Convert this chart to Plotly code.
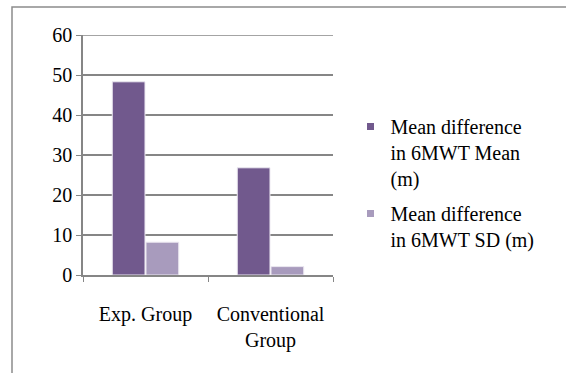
import plotly.graph_objects as go

categories = ["Exp. Group", "Conventional<br>Group"]
mean_diff = [48.3, 26.8]
sd_diff = [8.2, 2.1]
series_names = ["Mean difference<br>in 6MWT Mean<br>(m)", "Mean difference<br>in 6MWT SD (m)"]
colors = ["#71598d", "#a89bbd"]
y_ticks = [0, 10, 20, 30, 40, 50, 60]

font = dict(family="Liberation Serif", size=20, color="#000000")
grid_col = "#868686"

fig = go.Figure()
for i, (vals, name, col) in enumerate(zip([mean_diff, sd_diff], series_names, colors)):
    fig.add_trace(go.Bar(
        x=categories, y=vals, name=name, showlegend=False,
        marker=dict(color=col, line=dict(color="#ece8f1", width=1)),
    ))
    # small square legend swatch
    fig.add_trace(go.Scatter(
        x=[None], y=[None], mode="markers", name=name,
        legendgroup=f"g{i}",
        marker=dict(symbol="square", size=7, color=col),
    ))

fig.update_layout(
    width=566, height=373,
    margin=dict(l=83, r=233, t=35, b=98),
    paper_bgcolor="white", plot_bgcolor="white",
    font=font,
    barmode="group", bargap=0.46, bargroupgap=0.03,
    legend=dict(x=1.07, y=0.70, xanchor="left", yanchor="top",
                font=font, tracegroupgap=6, itemwidth=30, valign="top",
                bgcolor="rgba(0,0,0,0)"),
    xaxis=dict(
        showline=True, linecolor=grid_col, linewidth=1.5,
        ticks="outside", ticklen=5, tickcolor=grid_col,
        tickson="boundaries", showgrid=False,
        ticklabelstandoff=20,
    ),
    yaxis=dict(
        range=[0, 60], tickvals=y_ticks,
        showline=True, linecolor=grid_col, linewidth=1.5,
        ticks="outside", ticklen=5, tickcolor=grid_col,
        showgrid=True, gridcolor=grid_col, gridwidth=1.5,
        zeroline=False,
    ),
    shapes=[
        dict(type="rect", xref="paper", yref="paper",
             x0=-0.284, x1=2.5, y0=-0.8, y1=1.117,
             line=dict(color="#8c8c8c", width=1.5), layer="below"),
        # top gridline at the end of the value range
        dict(type="line", xref="paper", yref="y", x0=0, x1=1, y0=60, y1=60,
             line=dict(color=grid_col, width=1.5), layer="below"),
    ],
)

fig.write_html("out.html")
